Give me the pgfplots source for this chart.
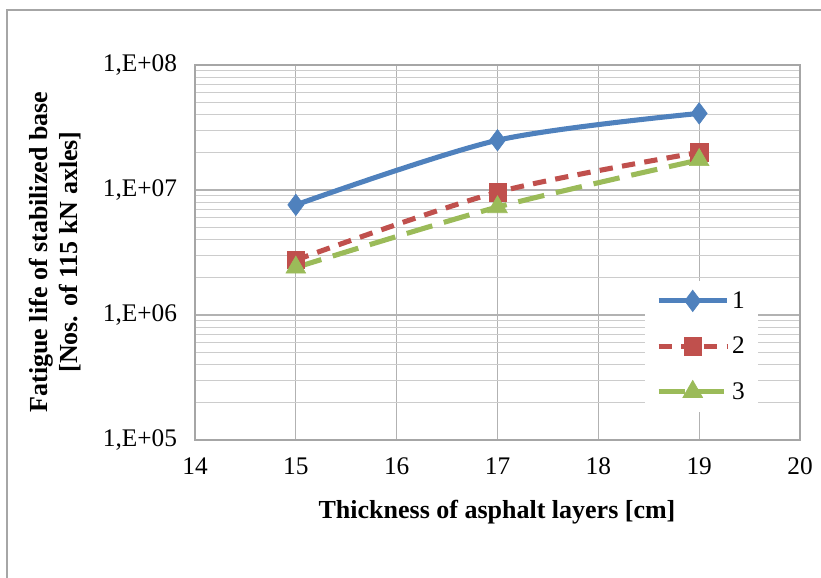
\documentclass[border=0pt]{standalone}
\usepackage{fontspec}
\setmainfont{Liberation Serif}
\usepackage{pgfplots}
\pgfplotsset{compat=1.18}
\definecolor{s1}{HTML}{4F81BD}
\definecolor{s2}{HTML}{C0504D}
\definecolor{s3}{HTML}{9BBB59}
\begin{document}
\begin{tikzpicture}[x=0.75pt,y=0.75pt]
\path[use as bounding box] (0,0) rectangle (821,578);
\draw[gray!70, line width=0.8pt] (7,0) -- (7,568) -- (821,568);
\begin{axis}[at={(146.25pt,103.5pt)}, anchor=south west, scale only axis,
 width=453.75pt, height=281.25pt,
 xmin=14, xmax=20, ymin=1e5, ymax=1e8, ymode=log, log basis y=10,
 xtick={14,15,16,17,18,19,20},
 ytick={1e5,1e6,1e7,1e8},
 yticklabels={{1,E+05},{1,E+06},{1,E+07},{1,E+08}},
 minor ytick={2e5,3e5,4e5,5e5,6e5,7e5,8e5,9e5,2e6,3e6,4e6,5e6,6e6,7e6,8e6,9e6,2e7,3e7,4e7,5e7,6e7,7e7,8e7,9e7},
 grid=both,
 major grid style={gray!60, line width=0.8pt},
 minor grid style={gray!40, line width=0.8pt},
 tick style={draw=none},
 axis line style={gray!70, line width=0.8pt},
 ticklabel style={font=\fontsize{19}{22}\selectfont},
 /pgf/number format/assume math mode=true,
 xticklabel style={yshift=-10pt},
 yticklabel style={xshift=-10pt},
 legend style={at={(rel axis cs:0.744,0.425)}, anchor=north west, draw=none, fill=white,
   font=\fontsize{19}{22}\selectfont, row sep=16pt, inner xsep=8pt, inner ysep=6pt},
 legend cell align=left,
 legend image code/.code={\draw[mark repeat=2,mark phase=2] plot coordinates {(0cm,0cm) (0.9cm,0cm) (1.8cm,0cm)};},
]
\addplot[s1, line width=3.8pt, smooth, mark=diamond*, mark size=8pt, mark options={solid, line width=0.5pt}]
 coordinates {(15,7.6e6) (17,2.5e7) (19,4.1e7)};
\addlegendentry{1}
\addplot[s2, line width=3.8pt, smooth, dash pattern=on 10pt off 7pt, mark=square*, mark size=6.5pt, mark options={solid, line width=0.5pt}]
 coordinates {(15,2.75e6) (17,9.6e6) (19,2.0e7)};
\addlegendentry{2}
\addplot[s3, line width=3.8pt, smooth, dash pattern=on 20pt off 9pt, mark=triangle*, mark size=8.5pt, mark options={solid, line width=0.5pt}]
 coordinates {(15,2.4e6) (17,7.3e6) (19,1.74e7)};
\addlegendentry{3}
\end{axis}
\node[rotate=90, align=center, font=\bfseries\fontsize{19.5}{23}\selectfont] at (55,326)
 {Fatigue life of stabilized base\\{}[Nos. of 115 kN axles]};
\node[font=\bfseries\fontsize{19.5}{23}\selectfont] at (497,66) {Thickness of asphalt layers [cm]};
\end{tikzpicture}
\end{document}
